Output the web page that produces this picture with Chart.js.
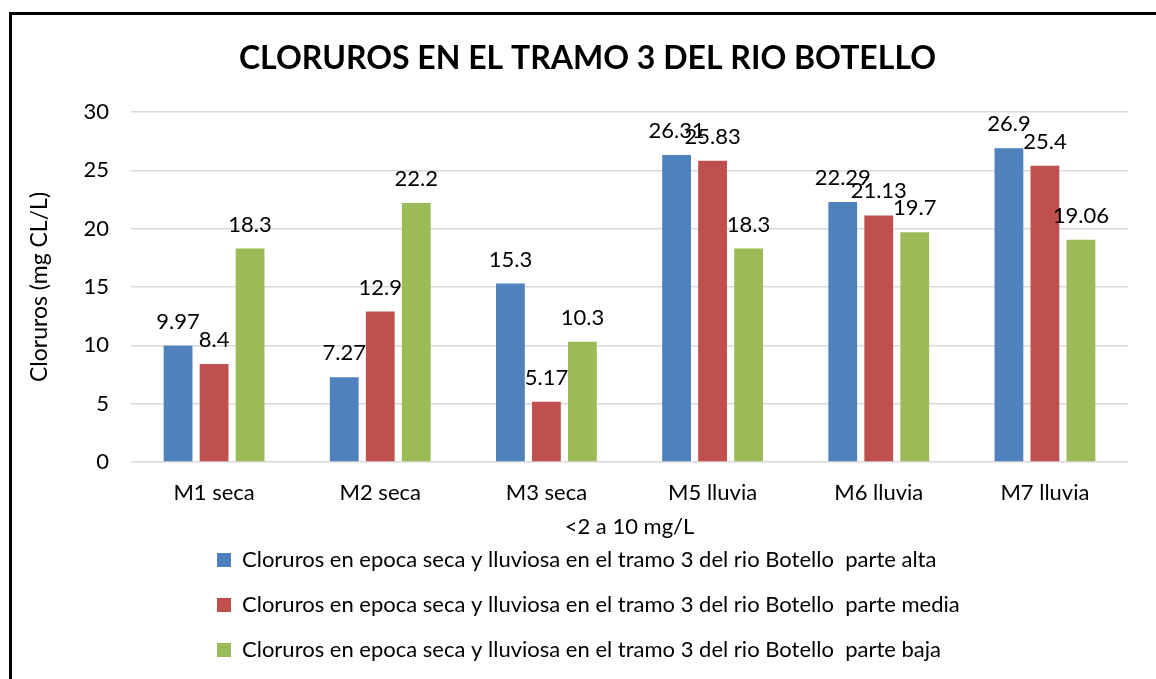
<!DOCTYPE html>
<html>
<head>
<meta charset="utf-8">
<script src="https://cdn.jsdelivr.net/npm/chart.js@4"></script>
<style>
  html, body { margin: 0; padding: 0; background: #fff; overflow: hidden; }
  #wrap { position: relative; width: 1156px; height: 679px; overflow: hidden; }
  #chart { position: absolute; left: 0; top: 0; }
  #frame { position: absolute; left: 9px; top: 12px; width: 1200px; height: 720px;
           border-left: 3px solid #000; border-top: 3px solid #000; pointer-events: none; }
</style>
</head>
<body>
<div id="wrap">
  <canvas id="chart" width="1156" height="679"></canvas>
  <div id="frame"></div>
</div>
<script>
const FONT = 'Lato, "Open Sans", sans-serif';

const categories = ['M1 seca', 'M2 seca', 'M3 seca', 'M5 lluvia', 'M6 lluvia', 'M7 lluvia'];
const parteAlta = [9.97, 7.27, 15.3, 26.31, 22.29, 26.9];
const parteMedia = [8.4, 12.9, 5.17, 25.83, 21.13, 25.4];
const parteBaja = [18.3, 22.2, 10.3, 18.3, 19.7, 19.06];

const seriesNames = [
    'Cloruros en epoca seca y lluviosa en el tramo 3 del rio Botello  parte alta',
    'Cloruros en epoca seca y lluviosa en el tramo 3 del rio Botello  parte media',
    'Cloruros en epoca seca y lluviosa en el tramo 3 del rio Botello  parte baja'
];
const colors = ['#4F81BD', '#C0504D', '#9BBB59'];

const dataset = (label, data, color) => ({
    label,
    data,
    backgroundColor: color,
    borderWidth: 0,
    categoryPercentage: 0.65,
    barPercentage: 0.8
});

// value labels on top of every bar
const barLabels = {
    id: 'barLabels',
    afterDatasetsDraw(chart) {
        const ctx = chart.ctx;
        ctx.save();
        ctx.font = '22px ' + FONT;
        ctx.fillStyle = '#000';
        ctx.textAlign = 'center';
        ctx.textBaseline = 'alphabetic';
        chart.data.datasets.forEach((ds, i) => {
            chart.getDatasetMeta(i).data.forEach((bar, j) => {
                ctx.fillText(String(ds.data[j]), bar.x, bar.y - 17);
            });
        });
        ctx.restore();
    }
};

// stack the legend entries on the left and nudge the title, like the original
const legendPlace = {
    id: 'legendPlace',
    afterLayout(chart) {
        chart.legend.left = 194;
        chart.legend.top = 526;
        chart.titleBlock.left += 22;
    }
};

new Chart(document.getElementById('chart'), {
    type: 'bar',
    data: {
        labels: categories,
        datasets: [
            dataset(seriesNames[0], parteAlta, colors[0]),
            dataset(seriesNames[1], parteMedia, colors[1]),
            dataset(seriesNames[2], parteBaja, colors[2])
        ]
    },
    options: {
        responsive: false,
        animation: false,
        layout: {padding: {left: 25, right: 28, top: 0, bottom: 0}},
        scales: {
            x: {
                grid: {display: false},
                border: {display: false},
                ticks: {color: '#000', font: {family: FONT, size: 22}, padding: 10},
                title: {display: true, text: '<2 a 10 mg/L', color: '#000',
                        font: {family: FONT, size: 22}, padding: {top: 0, bottom: 2}},
                afterFit(scale) { scale.height = 80; }
            },
            y: {
                min: 0,
                max: 30,
                ticks: {stepSize: 5, color: '#000', font: {family: FONT, size: 22}, padding: 22},
                grid: {color: '#d9d9d9', lineWidth: 1.5, drawTicks: false},
                border: {display: false},
                title: {display: true, text: 'Cloruros (mg CL/L)', color: '#000',
                        font: {family: FONT, size: 23}, padding: {top: 1, bottom: 0}},
                afterFit(scale) { scale.width = 106; }
            }
        },
        plugins: {
            title: {
                display: true,
                text: 'CLORUROS EN EL TRAMO 3 DEL RIO BOTELLO',
                color: '#000',
                font: {family: FONT, size: 32, weight: 'bold'},
                padding: {top: 39, bottom: 34.6}
            },
            legend: {
                position: 'bottom',
                align: 'start',
                maxHeight: 137,
                labels: {color: '#000', font: {family: FONT, size: 22}, boxWidth: 14, boxHeight: 14, padding: 23}
            },
            tooltip: {enabled: false}
        }
    },
    plugins: [barLabels, legendPlace]
});
</script>
</body>
</html>
